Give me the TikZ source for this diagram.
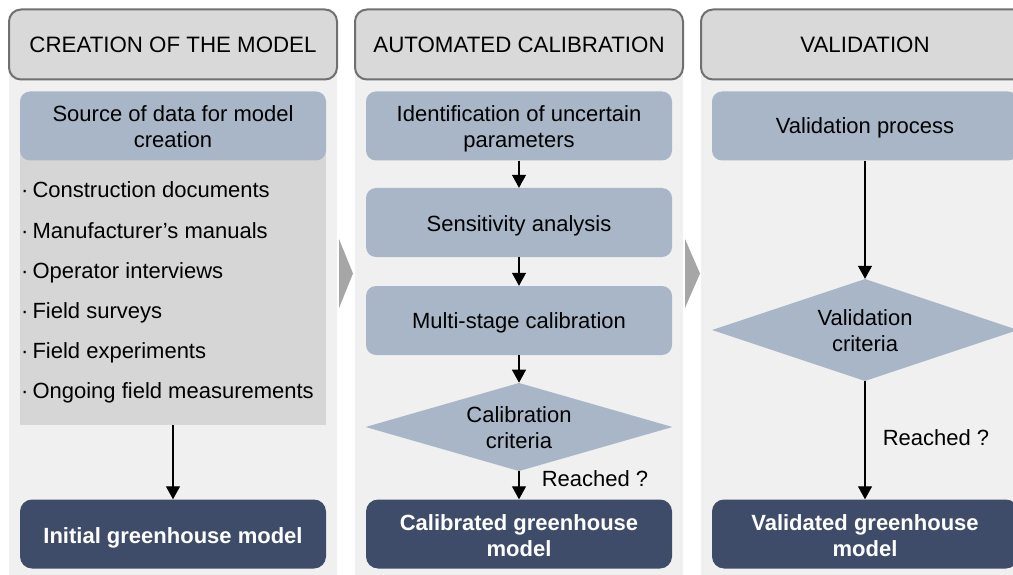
\documentclass[tikz,border=0pt]{standalone}
\usepackage{fontspec}
\setmainfont{Liberation Sans}
\usetikzlibrary{shapes.geometric,arrows.meta}
\definecolor{colbg}{HTML}{F0F0F0}
\definecolor{headfill}{HTML}{D9D9D9}
\definecolor{headline}{HTML}{707070}
\definecolor{stepblue}{HTML}{A9B6C8}
\definecolor{listgrey}{HTML}{D6D6D6}
\definecolor{navy}{HTML}{3F4C69}
\definecolor{chev}{HTML}{A6A6A6}
% centred block of lines with #1 of room above it, which sets it a little lower
\newcommand\boxlines[2]{\vbox{\kern#1\hbox{\begin{tabular}{@{}c@{}}#2\end{tabular}}}}
\begin{document}
\begin{tikzpicture}[x=1pt,y=-1pt,
  every node/.style={font=\fontsize{22}{26}\selectfont, text=black},
  header/.style={draw=headline, line width=2pt, fill=headfill, rounded corners=12pt,
    minimum width=328pt, minimum height=70pt, inner sep=0pt,
    font=\fontsize{22.3}{26}\selectfont},
  stepbox/.style={fill=stepblue, rounded corners=10pt, minimum width=306pt,
    minimum height=69pt, inner sep=0pt},
  resultbox/.style={fill=navy, rounded corners=12pt, minimum width=306pt,
    minimum height=69pt, inner sep=0pt, text=white,
    font=\fontsize{22}{26}\selectfont\bfseries},
  decision/.style={diamond, fill=stepblue, inner sep=0pt},
  listarea/.style={fill=listgrey, minimum width=306pt, minimum height=275pt, inner sep=0pt},
  item/.style={anchor=base west, inner sep=0pt},
  flow/.style={-{Triangle[length=13pt,width=14pt]}, line width=1.2pt},
  chevron/.style={fill=chev},
]
\useasboundingbox (0,0) rectangle (1013,575);
\clip (0,0) rectangle (1013,575);

% column backgrounds
\fill[colbg] (9,44) rectangle (337,575);
\fill[colbg] (355,44) rectangle (683,575);
\fill[colbg] (701,44) rectangle (1029,575);

% stage headers
\node[header] (h1) at (173,44.5) {CREATION OF THE MODEL};
\node[header] (h2) at (519,44.5) {AUTOMATED CALIBRATION};
\node[header] (h3) at (865,44.5) {VALIDATION};

% chevrons between stages
\fill[chevron] (339,239) -- (353,273.5) -- (339,308) -- cycle;
\fill[chevron] (685,239) -- (700,273.5) -- (685,308) -- cycle;

% stage 1: model creation
\node[listarea] (srclist) at (173,287.5) {};
\node[stepbox] (src) at (173,126) {\boxlines{6pt}{Source of data for model\\creation}};
\node[item] (l1) at (21,198) {·\kern4pt Construction documents};
\node[item] (l2) at (21,238) {·\kern4pt Manufacturer’s manuals};
\node[item] (l3) at (21,278) {·\kern4pt Operator interviews};
\node[item] (l4) at (21,318) {·\kern4pt Field surveys};
\node[item] (l5) at (21,358) {·\kern4pt Field experiments};
\node[item] (l6) at (21,398) {·\kern4pt Ongoing field measurements};
\node[resultbox] (init) at (173,534) {\boxlines{8pt}{Initial greenhouse model}};
\draw[flow] (srclist.south) -- (init.north);

% stage 2: automated calibration
\node[stepbox] (ident) at (519,126) {\boxlines{6pt}{Identification of uncertain\\parameters}};
\node[stepbox] (sens) at (519,222.5) {\boxlines{7pt}{Sensitivity analysis}};
\node[stepbox] (multi) at (519,320.5) {\boxlines{6pt}{Multi-stage calibration}};
\node[decision, aspect=3.48, minimum width=306pt, minimum height=88pt]
  (calcrit) at (519,427) {\boxlines{6pt}{Calibration\\criteria}};
\node[resultbox] (calib) at (519,534) {\boxlines{8pt}{Calibrated greenhouse\\model}};
\node (reach1) at (595,478.5) {Reached ?};
\draw[flow] (ident.south) -- (sens.north);
\draw[flow] (sens.south) -- (multi.north);
\draw[flow] (multi.south) -- (calcrit.north);
\draw[flow] (calcrit.south) -- (calib.north);

% stage 3: validation
\node[stepbox] (valproc) at (865,126) {\boxlines{5pt}{Validation process}};
\node[decision, aspect=3.0, minimum width=306pt, minimum height=102pt]
  (valcrit) at (865,330) {\boxlines{6pt}{Validation\\criteria}};
\node[resultbox] (valid) at (865,534) {\boxlines{8pt}{Validated greenhouse\\model}};
\node (reach2) at (936,437.5) {Reached ?};
\draw[flow] (valproc.south) -- (valcrit.north);
\draw[flow] (valcrit.south) -- (valid.north);
\end{tikzpicture}
\end{document}
